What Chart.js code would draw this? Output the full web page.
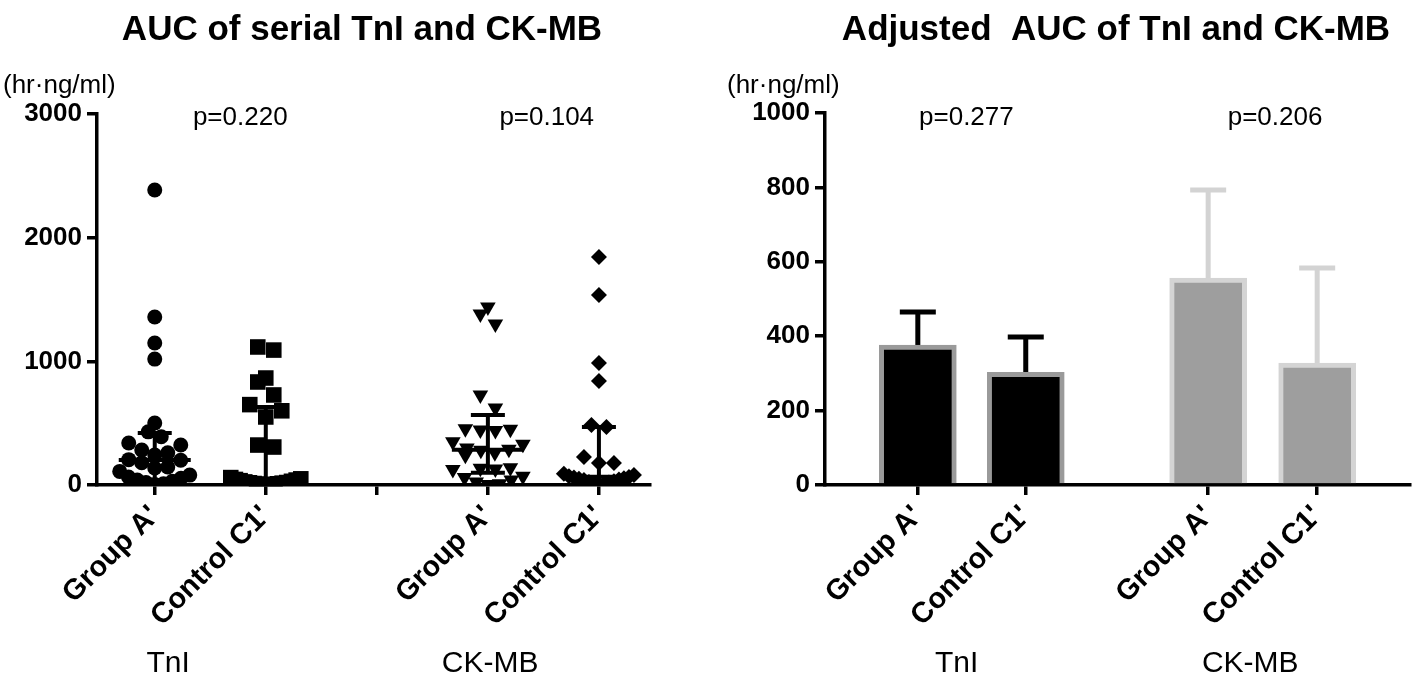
<!DOCTYPE html>
<html lang="en">
<head>
    <meta charset="UTF-8">
    <title>AUC of TnI and CK-MB</title>
    <script src="https://cdn.jsdelivr.net/npm/chart.js"></script>
    <style>
        body {
            margin: 0;
            padding: 0;
            background-color: #ffffff;
        }
        .wrap {
            position: relative;
            width: 1418px;
            height: 679px;
        }
        #left-box {
            position: absolute;
            left: 0;
            top: 0;
        }
        #right-box {
            position: absolute;
            left: 700px;
            top: 0;
        }
    </style>
</head>
<body>
    <div class="wrap">
        <div id="left-box"><canvas id="auc-chart" width="700" height="679"></canvas></div>
        <div id="right-box"><canvas id="adj-chart" width="718" height="679"></canvas></div>
    </div>

    <script>
        // --- data ---
        const groupLabels = ["Group A'", "Control C1'"];
        const markerLabels = ['TnI', 'CK-MB'];

        // left panel: individual AUC values (hr·ng/ml)
        const tniGroupA = [2385, 1358, 1148, 1018, 501, 430, 390, 340, 323, 283, 260, 243, 205,
                           200, 180, 146, 137, 110, 80, 65, 55, 40, 30, 20, 10, 5];
        const tniControl = [1116, 1091, 865, 833, 728, 650, 600, 550, 323, 307, 60, 50, 45,
                            40, 35, 30, 25, 20, 18, 15, 12, 10, 8, 5, 3, 2];
        const ckGroupA = [1439, 1382, 1302, 728, 622, 455, 450, 445, 440, 350, 330, 300, 290,
                          280, 260, 240, 140, 135, 130, 125, 70, 60, 40, 25, 10, 5];
        const ckControl = [1843, 1536, 986, 841, 485, 469, 226, 178, 178, 90, 80, 70,
                           65, 60, 55, 50, 45, 40, 30, 25, 20, 15, 10, 5];
        // median with interquartile range, same order: TnI A', TnI C1', CK A', CK C1'
        const scatterMedian = [202, 42, 285, 67];
        const scatterQ1 = [35, 5, 100, 15];
        const scatterQ3 = [420, 630, 566, 469];
        const leftP = ['p=0.220', 'p=0.104'];

        // right panel: adjusted AUC mean and upper error
        const adjMean = [376, 303, 556, 328];
        const adjUpper = [465, 398, 793, 583];
        const rightP = ['p=0.277', 'p=0.206'];

        // --- layout ---
        const FONT = "'Liberation Sans', Arial, sans-serif";
        Chart.defaults.font.family = FONT;
        Chart.defaults.color = '#000';

        const leftPos = [0, 1, 3, 4];          // slot of each group on the left x axis
        const leftTickPos = [0, 1, 2, 3, 4];   // 2 is the blank divider tick
        const rightPos = [0, 1, 2.69, 3.7];

        const PX_X = 111;      // px per x unit (left)
        const PX_Y = 0.1237;   // px per hr·ng/ml (left)

        // rows of near-equal values are spread sideways, like a GraphPad scatter.
        // lowest value of a row goes in the middle, the rest alternate outwards
        function swarm(values, diam, maxHalf) {
            const out = new Array(values.length);
            const order = values.map((v, i) => i).sort((a, b) => values[a] - values[b]);
            const rows = [];
            let row = null;
            order.forEach(i => {
                const y = values[i] * PX_Y;
                if (!row || y - row.y0 >= diam) {
                    row = { y0: y, idx: [] };
                    rows.push(row);
                }
                row.idx.push(i);
            });
            rows.forEach(r => {
                const n = r.idx.length;
                const step = n > 1 ? Math.min(diam, 2 * maxHalf / (n - 1)) : 0;
                const slots = [];
                for (let k = 0; k < n; k++) slots.push(k - (n - 1) / 2);
                slots.sort((a, b) => Math.abs(a) - Math.abs(b) || b - a);
                r.idx.forEach((i, k) => { out[i] = slots[k] * step / PX_X; });
            });
            return out;
        }

        function toPoints(values, slot, diam) {
            const offs = swarm(values, diam, 35);
            return values.map((v, i) => ({ x: slot + offs[i], y: v }));
        }

        function textPlugin(id) {
            return {
                id: id,
                afterDraw(chart, args, o) {
                    const ctx = chart.ctx;
                    const xs = chart.scales.x;
                    ctx.save();
                    ctx.fillStyle = '#000';
                    ctx.textBaseline = 'alphabetic';

                    ctx.font = 'bold 35px ' + FONT;
                    ctx.textAlign = 'center';
                    ctx.fillText(o.title, o.titleX, 40);

                    ctx.font = '26px ' + FONT;
                    ctx.textAlign = 'left';
                    ctx.fillText('(hr·ng/ml)', o.unitX, 93);

                    ctx.textAlign = 'center';
                    o.pText.forEach((t, i) => ctx.fillText(t, xs.getPixelForValue(o.pPos[i]), 125));

                    ctx.font = '30px ' + FONT;
                    markerLabels.forEach((t, i) => ctx.fillText(t, xs.getPixelForValue(o.markerPos[i]), 672));
                    ctx.restore();
                }
            };
        }

        const medianBars = {
            id: 'medianBars',
            afterDatasetsDraw(chart) {
                const ctx = chart.ctx;
                const xs = chart.scales.x;
                const ys = chart.scales.y;
                ctx.save();
                ctx.strokeStyle = '#000';
                ctx.lineWidth = 4;
                leftPos.forEach((slot, i) => {
                    const cx = xs.getPixelForValue(slot);
                    const yMed = ys.getPixelForValue(scatterMedian[i]);
                    const yLo = ys.getPixelForValue(scatterQ1[i]);
                    const yHi = ys.getPixelForValue(scatterQ3[i]);
                    ctx.beginPath();
                    ctx.moveTo(cx, yLo); ctx.lineTo(cx, yHi);
                    ctx.moveTo(cx - 17, yHi); ctx.lineTo(cx + 17, yHi);
                    ctx.moveTo(cx - 17, yLo); ctx.lineTo(cx + 17, yLo);
                    ctx.moveTo(cx - 36, yMed); ctx.lineTo(cx + 36, yMed);
                    ctx.stroke();
                });
                ctx.restore();
            }
        };

        const errorBars = {
            id: 'errorBars',
            beforeDatasetsDraw(chart) {
                const ctx = chart.ctx;
                const xs = chart.scales.x;
                const ys = chart.scales.y;
                ctx.save();
                ctx.lineWidth = 5;
                rightPos.forEach((slot, i) => {
                    const cx = xs.getPixelForValue(slot);
                    const y0 = ys.getPixelForValue(adjMean[i]);
                    const y1 = ys.getPixelForValue(adjUpper[i]);
                    ctx.strokeStyle = i < 2 ? '#000' : '#d3d3d3';
                    ctx.beginPath();
                    ctx.moveTo(cx, y0); ctx.lineTo(cx, y1);
                    ctx.moveTo(cx - 18, y1); ctx.lineTo(cx + 18, y1);
                    ctx.stroke();
                });
                ctx.restore();
            }
        };

        function xAxis(min, max, ticks, labelOf) {
            return {
                type: 'linear',
                min: min,
                max: max,
                offset: false,
                afterBuildTicks: s => { s.ticks = ticks.map(v => ({ value: v })); },
                afterFit: s => { s.height = 194; },
                grid: { display: true, offset: false, drawOnChartArea: false, drawTicks: true, tickLength: 10, lineWidth: 3.5, color: '#000' },
                border: { display: true, width: 3.5, color: '#000' },
                ticks: {
                    autoSkip: false,
                    minRotation: 45,
                    maxRotation: 45,
                    padding: 4,
                    font: { size: 29, weight: 'bold' },
                    callback: labelOf
                }
            };
        }

        function yAxis(max, step, width) {
            return {
                min: 0,
                max: max,
                afterFit: s => { s.width = width; },
                grid: { display: true, drawOnChartArea: false, drawTicks: true, tickLength: 10, lineWidth: 3.5, color: '#000' },
                border: { display: true, width: 3.5, color: '#000' },
                ticks: { stepSize: step, padding: 5, font: { size: 26, weight: 'bold' }, callback: v => String(v) }
            };
        }

        const leftLabel = v => {
            const i = leftPos.indexOf(v);
            return i < 0 ? '' : groupLabels[i % 2];
        };
        const rightLabel = v => {
            const i = rightPos.indexOf(v);
            return i < 0 ? '' : groupLabels[i % 2];
        };

        new Chart(document.getElementById('auc-chart'), {
            type: 'scatter',
            data: {
                datasets: [
                    { data: toPoints(tniGroupA, leftPos[0], 13), pointStyle: 'circle', radius: 7.5 },
                    { data: toPoints(tniControl, leftPos[1], 16), pointStyle: 'rect', radius: 11 },
                    { data: toPoints(ckGroupA, leftPos[2], 15), pointStyle: 'triangle', rotation: 180, radius: 9 },
                    { data: toPoints(ckControl, leftPos[3], 15), pointStyle: 'rectRot', radius: 8 }
                ].map(d => Object.assign(d, { backgroundColor: '#000', borderColor: '#000', borderWidth: 0, hoverRadius: d.radius }))
            },
            options: {
                responsive: false,
                animation: false,
                layout: { padding: { top: 114, right: 50, bottom: 0, left: 0 } },
                scales: {
                    x: xAxis(-0.52, 4.46, leftTickPos, leftLabel),
                    y: yAxis(3000, 1000, 97)
                },
                plugins: {
                    legend: { display: false },
                    tooltip: { enabled: false },
                    leftText: {
                        title: 'AUC of serial TnI and CK-MB', titleX: 362, unitX: 3,
                        pText: leftP, pPos: [0.77, 3.53], markerPos: [0.12, 3.02]
                    }
                }
            },
            plugins: [medianBars, textPlugin('leftText')]
        });

        new Chart(document.getElementById('adj-chart'), {
            type: 'bar',
            data: {
                datasets: [{
                    data: adjMean.map((v, i) => ({ x: rightPos[i], y: v })),
                    backgroundColor: ['#000000', '#000000', '#9e9e9e', '#9e9e9e'],
                    borderColor: ['#9a9a9a', '#9a9a9a', '#d4d4d4', '#d4d4d4'],
                    borderWidth: 5,
                    borderSkipped: 'start',
                    barThickness: 77
                }]
            },
            options: {
                responsive: false,
                animation: false,
                layout: { padding: { top: 113, right: 8, bottom: 0, left: 0 } },
                scales: {
                    x: xAxis(-0.86, 4.56, rightPos, rightLabel),
                    y: yAxis(1000, 200, 125)
                },
                plugins: {
                    legend: { display: false },
                    tooltip: { enabled: false },
                    rightText: {
                        title: 'Adjusted  AUC of TnI and CK-MB', titleX: 416, unitX: 27,
                        pText: rightP, pPos: [0.45, 3.31], markerPos: [0.36, 3.08]
                    }
                }
            },
            plugins: [errorBars, textPlugin('rightText')]
        });
    </script>
</body>
</html>
